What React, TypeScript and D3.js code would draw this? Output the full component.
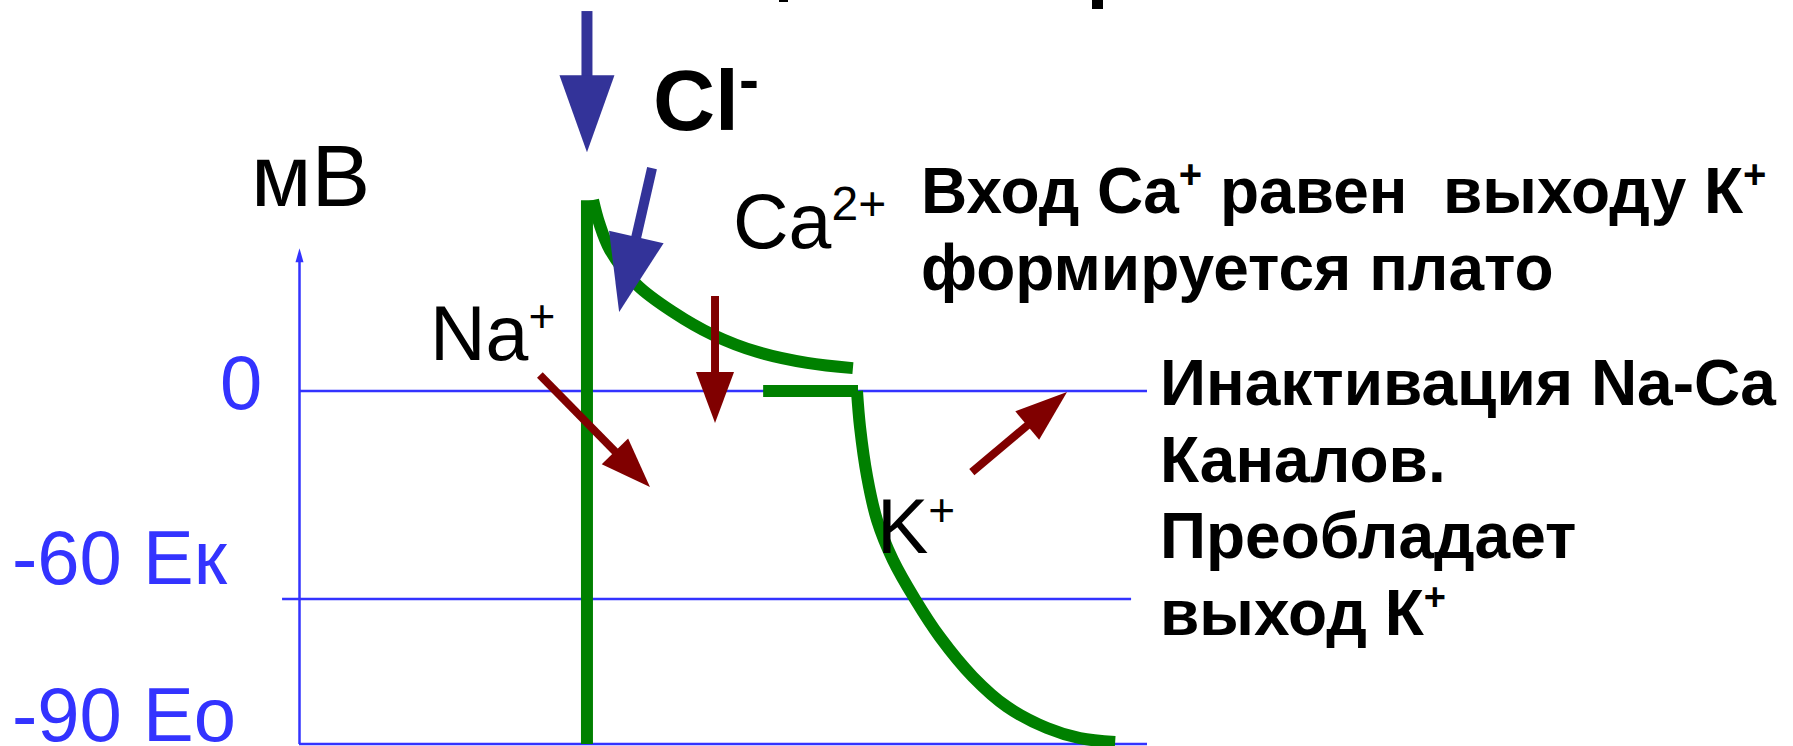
import React from 'react';
import * as d3 from 'd3';

// ---- data (time in ms, potential in mV) ----
const spikeT = [84.7, 84.7];
const spikeV = [-90, 55];
const phase1T = [86.5, 88.3, 91.5, 99.5, 110.1, 121.9, 134.9, 149.7, 163.2];
const phase1V = [55.1, 48.5, 40.7, 30.6, 22.8, 16.2, 11.3, 8.1, 6.6];
const plateauT = [136.7, 164.7];
const plateauV = [0, 0];
const repolT = [164.4, 165.3, 167.4, 170.3, 175.0, 181.5, 188.9, 198.6, 208.7, 220.5, 230.2, 240.6];
const repolV = [0, -10.4, -24.8, -37.2, -48.7, -60, -67.9, -76.1, -82.3, -86.7, -88.8, -89.6];

const levelV = [0, -60, -90];
const levelLabels = ['0', '-60 Ек', '-90 Ео'];
const levelStartT = [0, -5, 0];
const levelEndT = [250, 245.3, 250];
const axisTopV = 41.2;

const arrowIons = ['Cl-top', 'Cl', 'Ca', 'Na', 'K'];
const arrowFromT = [84.7, 103.9, 122.5, 70.8, 198.3];
const arrowFromV = [109.6, 64.3, 27.4, 4.6, -23.4];
const arrowToT = [84.7, 94.2, 122.5, 103.3, 226.4];
const arrowToV = [68.9, 22.8, -9.2, -27.7, -0.3];

// ---- styles ----
const BLUE = '#3333FF';
const GREEN = '#008000';
const DARKRED = '#800000';
const ARROWBLUE = '#333399';
const FONT = '"Liberation Sans", Arial, Helvetica, sans-serif';
const arrowStyle: Record<string, { color: string; head: number; half: number; shaft: number }> = {
  'Cl-top': { color: ARROWBLUE, head: 77, half: 27.5, shaft: 11 },
  Cl: { color: ARROWBLUE, head: 77, half: 28, shaft: 10 },
  Ca: { color: DARKRED, head: 51, half: 19, shaft: 8 },
  Na: { color: DARKRED, head: 50, half: 18.5, shaft: 8 },
  K: { color: DARKRED, head: 52, half: 18.5, shaft: 8 },
};

const W = 1793;
const H = 746;

const x = d3.scaleLinear().domain([0, 250]).range([300, 1147]);
const y = d3.scaleLinear().domain([-90, -60, 0]).range([744, 599, 391]);

const lineGen = d3
  .line<[number, number]>()
  .x((d) => x(d[0]))
  .y((d) => y(d[1]));
const curveGen = d3
  .line<[number, number]>()
  .x((d) => x(d[0]))
  .y((d) => y(d[1]))
  .curve(d3.curveCatmullRom.alpha(0.5));

const zip = (a: number[], b: number[]) => a.map((v, i) => [v, b[i]] as [number, number]);

function Arrow({ i }: { i: number }) {
  const st = arrowStyle[arrowIons[i]];
  const x1 = x(arrowFromT[i]);
  const y1 = y(arrowFromV[i]);
  const x2 = x(arrowToT[i]);
  const y2 = y(arrowToV[i]);
  const len = Math.hypot(x2 - x1, y2 - y1);
  const ux = (x2 - x1) / len;
  const uy = (y2 - y1) / len;
  const bx = x2 - ux * st.head;
  const by = y2 - uy * st.head;
  const px = -uy;
  const py = ux;
  const pts = [
    [bx + px * st.half, by + py * st.half],
    [x2, y2],
    [bx - px * st.half, by - py * st.half],
  ]
    .map((p) => p.join(','))
    .join(' ');
  return (
    <g>
      <line x1={x1} y1={y1} x2={bx + ux * 2} y2={by + uy * 2} stroke={st.color} strokeWidth={st.shaft} />
      <polygon points={pts} fill={st.color} />
    </g>
  );
}

export default function App() {
  const labelDy = [18, -15, -3];
  return (
    <svg
      width={W}
      height={H}
      viewBox={`0 0 ${W} ${H}`}
      style={{ position: 'absolute', left: 0, top: 0, display: 'block', background: '#fff' }}
      fontFamily={FONT}
    >
      <rect x={0} y={0} width={W} height={H} fill="#fff" />
      {/* cut-off title fragments at the top edge */}
      <rect x={779} y={0} width={9} height={2} fill="#000" />
      <rect x={1092} y={0} width={11} height={9} fill="#000" />

      {/* axis */}
      <line x1={x(0) - 0.5} y1={y(-90)} x2={x(0) - 0.5} y2={y(axisTopV) + 12} stroke={BLUE} strokeWidth={2.5} />
      <polygon
        points={`${x(0) - 0.5},${y(axisTopV)} ${x(0) - 4.5},${y(axisTopV) + 14} ${x(0) + 3.5},${y(axisTopV) + 14}`}
        fill={BLUE}
      />
      {levelV.map((v, i) => (
        <line
          key={'lv' + i}
          x1={x(levelStartT[i]) - 1}
          x2={x(levelEndT[i])}
          y1={y(v)}
          y2={y(v)}
          stroke={BLUE}
          strokeWidth={2.5}
        />
      ))}
      {levelV.map((v, i) => (
        <text
          key={'lt' + i}
          x={i === 0 ? 220 : 12}
          y={y(v) + labelDy[i]}
          fontSize={76}
          fill={BLUE}
        >
          {levelLabels[i]}
        </text>
      ))}

      {/* action potential */}
      <path d={lineGen(zip(spikeT, spikeV)) || ''} stroke={GREEN} strokeWidth={12} fill="none" />
      <path d={curveGen(zip(phase1T, phase1V)) || ''} stroke={GREEN} strokeWidth={12} fill="none" />
      <path d={lineGen(zip(plateauT, plateauV)) || ''} stroke={GREEN} strokeWidth={12} fill="none" />
      <path d={curveGen(zip(repolT, repolV)) || ''} stroke={GREEN} strokeWidth={12} fill="none" />

      {/* arrows */}
      {arrowIons.map((_, i) => (
        <Arrow key={'a' + i} i={i} />
      ))}

      {/* labels */}
      <text x={251} y={206} fontSize={88} fill="#000">
        мВ
      </text>
      <text x={653} y={130} fontSize={86} fontWeight="bold" fill="#000">
        Cl
        <tspan fontSize={60} dy={-30}>
          -
        </tspan>
      </text>
      <text x={733} y={248} fontSize={77} fill="#000">
        Ca
        <tspan fontSize={48} dy={-28}>
          2+
        </tspan>
      </text>
      <text x={430} y={360} fontSize={77} fill="#000">
        Na
        <tspan fontSize={46} dy={-28}>
          +
        </tspan>
      </text>
      <text x={877} y={553} fontSize={77} fill="#000">
        K
        <tspan fontSize={46} dy={-27}>
          +
        </tspan>
      </text>

      <g fontWeight="bold" fontSize={64} fill="#000">
        <text x={921} y={213}>
          {'Вход Ca'}
          <tspan fontSize={40} dy={-25}>
            +
          </tspan>
          <tspan dy={25}>{' равен\u00A0 выходу К'}</tspan>
          <tspan fontSize={40} dy={-25}>
            +
          </tspan>
        </text>
        <text x={921} y={290}>
          формируется плато
        </text>
        <text x={1160} y={405}>
          Инактивация Na-Ca
        </text>
        <text x={1160} y={482}>
          Каналов.
        </text>
        <text x={1160} y={558}>
          Преобладает
        </text>
        <text x={1160} y={635}>
          {'выход К'}
          <tspan fontSize={38} dy={-25}>
            +
          </tspan>
        </text>
      </g>
    </svg>
  );
}
